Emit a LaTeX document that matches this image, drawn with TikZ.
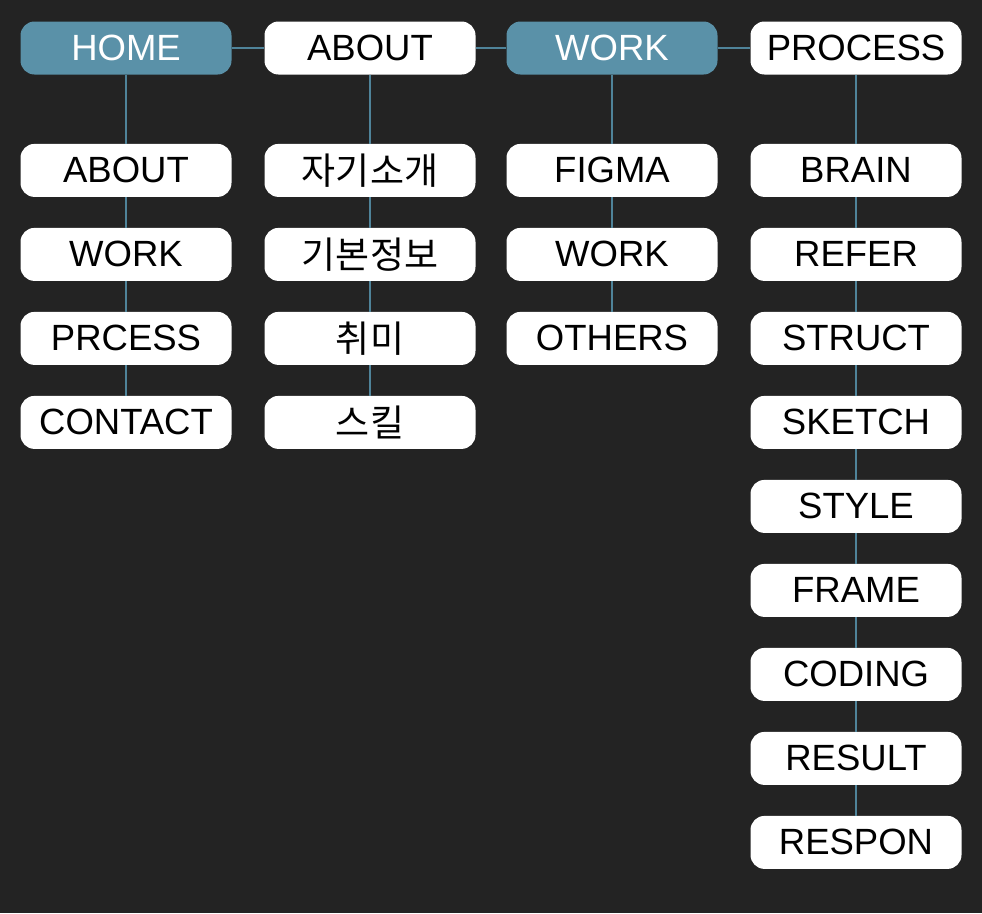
\documentclass[tikz,border=0pt]{standalone}
\usepackage{fontspec}
\setmainfont{Liberation Sans}
\newfontfamily\krfont{Noto Sans CJK KR}
\usetikzlibrary{positioning}
\definecolor{bgdark}{HTML}{232323}
\definecolor{menuteal}{HTML}{5A91A8}
\definecolor{linkteal}{HTML}{4F8399}
\tikzset{menu/.style={draw=none,fill=white,text=black,rounded corners=14pt,minimum width=211pt,minimum height=53pt,inner sep=0pt,font=\fontsize{36.5}{40}\selectfont}}
\tikzset{active/.style={menu,fill=menuteal,text=white}}
\tikzset{krmenu/.style={menu,font=\krfont\fontsize{37}{40}\selectfont}}
\tikzset{link/.style={linkteal,line width=1.4pt}}

\begin{document}
\begin{tikzpicture}[x=1pt,y=1pt,node distance=30.6pt]
	\fill [bgdark] (0,0) rectangle (982,-913);
	\useasboundingbox (0,0) rectangle (982,-913);
	% top menu bar
	\node [active] (home) at (126,-48) {HOME};
	\node [menu] (about) at (370,-48) {ABOUT};
	\node [active] (work) at (612,-48) {WORK};
	\node [menu] (process) at (856,-48) {PROCESS};

	% home column
	\node [menu,below=69pt of home] (home1) {ABOUT};
	\node [menu,below=of home1] (home2) {WORK};
	\node [menu,below=of home2] (home3) {PRCESS};
	\node [menu,below=of home3] (home4) {CONTACT};

	% about column
	\node [krmenu,below=69pt of about] (about1) {자기소개};
	\node [krmenu,below=of about1] (about2) {기본정보};
	\node [krmenu,below=of about2] (about3) {취미};
	\node [krmenu,below=of about3] (about4) {스킬};

	% work column
	\node [menu,below=69pt of work] (work1) {FIGMA};
	\node [menu,below=of work1] (work2) {WORK};
	\node [menu,below=of work2] (work3) {OTHERS};

	% process column
	\node [menu,below=69pt of process] (proc1) {BRAIN};
	\node [menu,below=of proc1] (proc2) {REFER};
	\node [menu,below=of proc2] (proc3) {STRUCT};
	\node [menu,below=of proc3] (proc4) {SKETCH};
	\node [menu,below=of proc4] (proc5) {STYLE};
	\node [menu,below=of proc5] (proc6) {FRAME};
	\node [menu,below=of proc6] (proc7) {CODING};
	\node [menu,below=of proc7] (proc8) {RESULT};
	\node [menu,below=of proc8] (proc9) {RESPON};

	\draw [link] (home) -- (about) -- (work) -- (process);
	\draw [link] (home) -- (home1) -- (home2) -- (home3) -- (home4);
	\draw [link] (about) -- (about1) -- (about2) -- (about3) -- (about4);
	\draw [link] (work) -- (work1) -- (work2) -- (work3);
	\draw [link] (process) -- (proc1) -- (proc2) -- (proc3) -- (proc4) -- (proc5) -- (proc6) -- (proc7) -- (proc8) -- (proc9);
\end{tikzpicture}
\end{document}
